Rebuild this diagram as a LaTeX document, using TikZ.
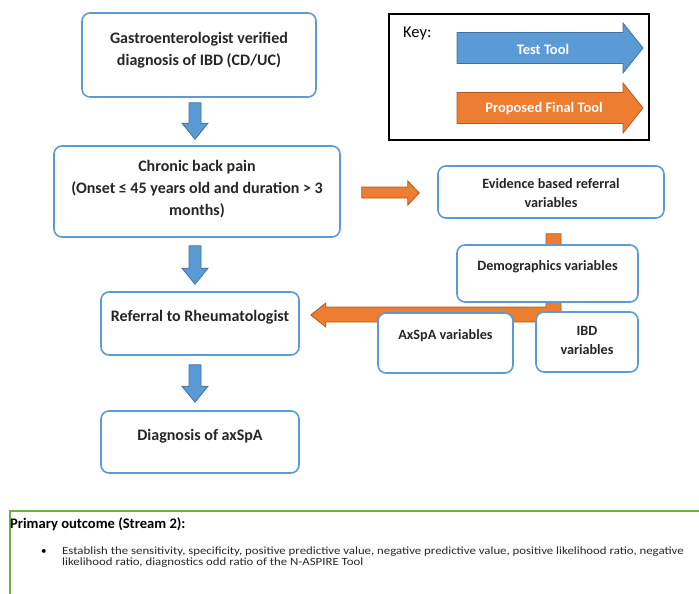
\documentclass[tikz,border=0pt]{standalone}
\usepackage{fontspec}
\setmainfont{Carlito}
\usetikzlibrary{calc}
\definecolor{boxblue}{HTML}{5B9BD5}
\definecolor{arrowblue}{HTML}{5B9BD5}
\definecolor{arrowblueline}{HTML}{41719C}
\definecolor{toolorange}{HTML}{ED7D31}
\definecolor{toolorangeline}{HTML}{AE5A21}
\definecolor{outcomegreen}{HTML}{70AD47}
\begin{document}
\begin{tikzpicture}[x=1pt,y=-1pt,
  flowbox/.style={draw=boxblue, line width=1.6pt, rounded corners=8pt, fill=white, inner sep=0pt},
  boxtext/.style={font=\bfseries\fontsize{16}{22}\selectfont, align=center, inner sep=0pt, text=black!85},
  sidetext/.style={font=\bfseries\fontsize{14.2}{18.5}\selectfont, align=center, inner sep=0pt, text=black!85},
  bluearrow/.style={fill=arrowblue, draw=arrowblueline, line width=0.8pt, line join=miter},
  orangearrow/.style={fill=toolorange, draw=toolorangeline, line width=0.8pt, line join=miter},
  keytext/.style={font=\bfseries\fontsize{14.5}{17}\selectfont, text=white, inner sep=0pt},
  outcomeline/.style={font=\fontsize{11}{11}\selectfont, anchor=base west, inner sep=0pt, text=black!85},
]
\useasboundingbox (0,0) rectangle (699,594);
\clip (0,0) rectangle (699,594);

% downward block arrow from a top point to a tip point
\newcommand\downblock[2]{%
  \path let \p1=(#1), \p2=(#2) in [bluearrow]
    (\x1-6pt,\y1) -- (\x1+6pt,\y1) -- (\x1+6pt,\y2+16pt) -- (\x1+13pt,\y2+16pt)
    -- (\x1,\y2) -- (\x1-13pt,\y2+16pt) -- (\x1-6pt,\y2+16pt) -- cycle;}
% outcome text is set slightly wide
\newcommand\widetext[1]{\scalebox{1.165}[1]{#1}}

% ---------- key ----------
\node[draw=black, line width=2pt, minimum width=260pt, minimum height=126pt, inner sep=0pt] (key) at (519,77) {};
\node[font=\fontsize{16.5}{18}\selectfont, anchor=base west, inner sep=0pt] (keylabel) at (403,38) {Key:};
\coordinate (testtail) at (457,48);
\coordinate (testtip) at (643,48);
\coordinate (proptail) at (457,108);
\coordinate (proptip) at (643,108);
\path[bluearrow] ($(testtail)+(0,-15.5)$) -- ($(testtip)+(-20,-15.5)$) -- ($(testtip)+(-20,-25)$)
  -- (testtip) -- ($(testtip)+(-20,25)$) -- ($(testtip)+(-20,15.5)$) -- ($(testtail)+(0,15.5)$) -- cycle;
\path[orangearrow] ($(proptail)+(0,-15.5)$) -- ($(proptip)+(-20,-15.5)$) -- ($(proptip)+(-20,-25)$)
  -- (proptip) -- ($(proptip)+(-20,25)$) -- ($(proptip)+(-20,15.5)$) -- ($(proptail)+(0,15.5)$) -- cycle;
\node[keytext] (testlabel) at (543,49) {Test Tool};
\node[keytext] (proplabel) at (544,109) {Proposed Final Tool};

% ---------- main pathway ----------
\node[flowbox, minimum width=234pt, minimum height=84pt] (gastro) at (199,55) {};
\node[boxtext] (gastrotext) at (199,50.5) {Gastroenterologist verified\\diagnosis of IBD (CD/UC)};

\node[flowbox, minimum width=286pt, minimum height=91pt] (pain) at (197,191.5) {};
\node[boxtext] (paintext) at (197,189) {Chronic back pain\\(Onset ≤ 45 years old and duration > 3\\months)};

\node[flowbox, minimum width=198pt, minimum height=63pt] (referral) at (200,323.5) {};
\node[boxtext] (referraltext) at (200,317) {Referral to Rheumatologist};

\node[flowbox, minimum width=198pt, minimum height=62pt] (axspa) at (200,442) {};
\node[boxtext] (axspatext) at (200,436) {Diagnosis of axSpA};

\downblock{$(gastro.south)+(-4,5)$}{$(pain.north)+(-2,-6)$}
\downblock{$(pain.south)+(-2,8)$}{$(referral.north)+(-5,-7)$}
\downblock{$(referral.south)+(-5,9)$}{$(axspa.north)+(-5,-8)$}

% ---------- referral variables ----------
\node[flowbox, minimum width=226pt, minimum height=52pt] (evidence) at (551,192) {};
\node[sidetext] (evidencetext) at (551,193) {Evidence based referral\\variables};

% proposed tool: the variables feed the referral
\coordinate (elbow) at (553.5,314.5);
\path[orangearrow] ($(evidence.south)+(-5,15)$) -- ($(evidence.south)+(10,15)$)
  -- ($(elbow)+(7.5,7.5)$) -- ($(referral.east)+(26,-1.5)$) -- ($(referral.east)+(26,3.5)$)
  -- ($(referral.east)+(11,-8.5)$) -- ($(referral.east)+(26,-20.5)$) -- ($(referral.east)+(26,-16.5)$)
  -- ($(elbow)+(-7.5,-7.5)$) -- cycle;

\node[flowbox, minimum width=181pt, minimum height=57pt] (demog) at (547.5,273.5) {};
\node[sidetext] (demogtext) at (547.5,267) {Demographics variables};

\node[flowbox, minimum width=135pt, minimum height=60pt] (axvars) at (445.5,343) {};
\node[sidetext] (axvarstext) at (445.5,336) {AxSpA variables};

\node[flowbox, minimum width=102pt, minimum height=60pt] (ibdvars) at (587,342) {};
\node[sidetext] (ibdvarstext) at (587,340.5) {IBD\\variables};

% test tool: chronic back pain to the evidence
\path[orangearrow] ($(pain.east)+(21,-4.5)$) -- ($(pain.east)+(67,-4.5)$) -- ($(pain.east)+(67,-10.5)$)
  -- ($(evidence.west)+(-18,1)$) -- ($(pain.east)+(67,13.5)$) -- ($(pain.east)+(67,6.5)$)
  -- ($(pain.east)+(21,6.5)$) -- cycle;

% ---------- outcome panel ----------
\node[draw=outcomegreen, line width=2pt, minimum width=720pt, minimum height=120pt, anchor=north west, inner sep=0pt] (outcome) at (9,510) {};
\node[font=\bfseries\fontsize{14.6}{16}\selectfont, anchor=base west, inner sep=0pt] (outcomehead) at (10,528) {Primary outcome (Stream 2):};
\node[font=\fontsize{11}{11}\selectfont, anchor=base west, inner sep=0pt] (bullet) at (41,554.5) {•};
\node[outcomeline] (outcomeline1) at (62,554.5)
  {\widetext{Establish the sensitivity, specificity, positive predictive value, negative predictive value, positive likelihood ratio, negative}};
\node[outcomeline] (outcomeline2) at (62,565.5)
  {\widetext{likelihood ratio, diagnostics odd ratio of the N-ASPIRE Tool}};
\end{tikzpicture}
\end{document}
